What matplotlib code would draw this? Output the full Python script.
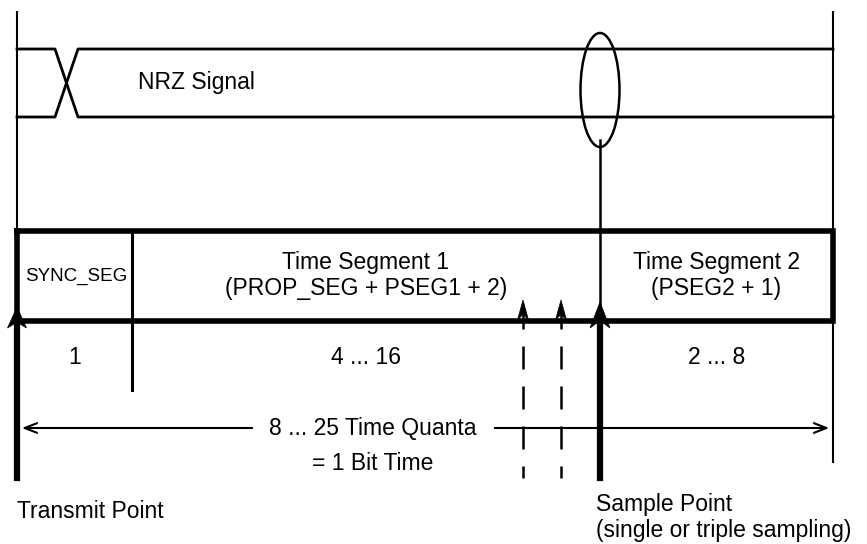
import matplotlib.pyplot as plt
from matplotlib.patches import Ellipse, Polygon

plt.rcParams['font.family'] = ['Liberation Sans', 'DejaVu Sans']

# diagram geometry in pixel units (x to the right, y downwards)
bit_start, bit_end = 17, 833
seg_edges = [17, 132, 600, 833]
seg_title1 = ["SYNC_SEG", "Time Segment 1", "Time Segment 2"]
seg_title2 = ["", "(PROP_SEG + PSEG1 + 2)", "(PSEG2 + 1)"]
seg_counts = ["1", "4 ... 16", "2 ... 8"]
triple_samples = [523, 561]
sample_x = 600
box_top, box_bot = 231, 321
nrz_hi, nrz_lo = 49, 117

fs = 16.5

fig = plt.figure(figsize=(8.67, 5.44), dpi=100)
ax = fig.add_axes([0, 0, 1, 1])
ax.set_xlim(0, 867)
ax.set_ylim(544, 0)
ax.axis('off')


def stealth(x, tip, length, half):
    # upward pointing arrow head with a notched back
    pts = [(x, tip), (x + half, tip + length), (x, tip + 0.72 * length), (x - half, tip + length)]
    ax.add_patch(Polygon(pts, closed=True, fc='black', ec='black', lw=0.5, zorder=5))


# outer bit boundaries
ax.plot([bit_start, bit_start], [12, box_top], color='black', lw=1.5)
ax.plot([bit_end, bit_end], [12, 462], color='black', lw=1.5)

# NRZ signal
ax.plot([bit_start, 55, 78, bit_end], [nrz_hi, nrz_hi, nrz_lo, nrz_lo], color='black', lw=2)
ax.plot([bit_start, 55, 78, bit_end], [nrz_lo, nrz_lo, nrz_hi, nrz_hi], color='black', lw=2)
ax.text(138, 83, "NRZ Signal", ha='left', va='center', fontsize=fs)

# sampling ellipse and line down
ax.add_patch(Ellipse((sample_x, 90), 39, 114, fill=False, ec='black', lw=1.8))
ax.plot([sample_x, sample_x], [140, box_bot], color='black', lw=1.8)

# segment box
ax.plot([seg_edges[0], seg_edges[-1], seg_edges[-1], seg_edges[0], seg_edges[0]],
        [box_top, box_top, box_bot, box_bot, box_top], color='black', lw=4, solid_joinstyle='miter')
ax.plot([seg_edges[1], seg_edges[1]], [box_top, 390], color='black', lw=2.2)

for i in range(len(seg_title1)):
    cx = (seg_edges[i] + seg_edges[i + 1]) / 2
    if i == 0:
        ax.text(cx + 2, 276, seg_title1[i], ha='center', va='center', fontsize=13.5)
    else:
        ax.text(cx, 262, seg_title1[i], ha='center', va='center', fontsize=fs)
        ax.text(cx, 289, seg_title2[i], ha='center', va='center', fontsize=fs)
    ax.text(cx, 357, seg_counts[i], ha='center', va='center', fontsize=fs)

# transmit point
ax.plot([bit_start, bit_start], [box_bot, 478], color='black', lw=4.5)
stealth(bit_start, 307, 21, 9.5)

# sample point
ax.plot([sample_x, sample_x], [box_bot, 478], color='black', lw=4.5)
stealth(sample_x, 302, 26, 10)

# triple sampling points
for sx in triple_samples:
    ax.plot([sx, sx], [306, 478], color='black', lw=1.8, dashes=(9.2, 6.8))
    stealth(sx, 300, 20, 5.5)

# bit time arrow
ax.annotate('', xy=(bit_start + 2, 428), xytext=(255, 428),
            arrowprops=dict(arrowstyle='->,head_length=0.9,head_width=0.35', color='black', lw=1.5))
ax.annotate('', xy=(bit_end - 1, 428), xytext=(492, 428),
            arrowprops=dict(arrowstyle='->,head_length=0.9,head_width=0.35', color='black', lw=1.5))
ax.text(373, 428, "8 ... 25 Time Quanta", ha='center', va='center', fontsize=fs)
ax.text(373, 463, "= 1 Bit Time", ha='center', va='center', fontsize=fs)

ax.text(bit_start, 511, "Transmit Point", ha='left', va='center', fontsize=fs)
ax.text(596, 505, "Sample Point", ha='left', va='center', fontsize=fs)
ax.text(596, 530, "(single or triple sampling)", ha='left', va='center', fontsize=fs)

fig.savefig('out.png', dpi=100)
